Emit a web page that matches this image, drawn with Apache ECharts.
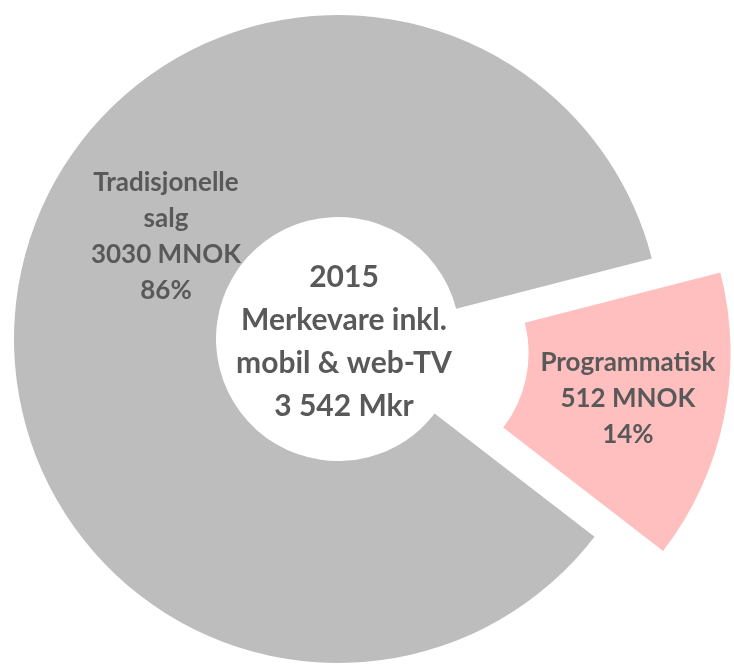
<!DOCTYPE html>
<html>
<head>
<meta charset="utf-8">
<script src="https://cdn.jsdelivr.net/npm/echarts@6/dist/echarts.min.js"></script>
<style>
  html, body { margin: 0; padding: 0; background: #fff; }
  #main { width: 734px; height: 664px; }
</style>
</head>
<body>
<div id="main"></div>
<script>
// data
var names = ['Programmatisk', 'Tradisjonelle salg'];
var values = [512, 3030];
var colors = ['#FFBFBF', '#BDBDBD'];
var centerLines = ['2015', 'Merkevare inkl.', 'mobil & web-TV', '3 542 Mkr'];

// label anchor points (pixels), same order as names
var labelPos = [[636, 409], [166, 237]];

var myChart = echarts.init(document.getElementById('main'));

var seriesData = [];
for (var i = 0; i < names.length; i++) {
    seriesData.push({
        name: names[i],
        value: values[i],
        selected: i === 0,
        itemStyle: { color: colors[i] }
    });
}

var option = {
    animation: false,
    backgroundColor: '#ffffff',
    graphic: [{
        type: 'text',
        x: 344,
        y: 342,
        style: {
            text: centerLines.join('\n'),
            textAlign: 'center',
            textVerticalAlign: 'middle',
            fill: '#595959',
            fontFamily: 'Lato',
            fontWeight: 'bold',
            fontSize: 30,
            lineHeight: 43
        }
    }],
    series: [{
        type: 'pie',
        center: [338, 339],
        radius: [122, 324],
        startAngle: 14.4,
        clockwise: true,
        selectedMode: 'single',
        selectedOffset: 70,
        avoidLabelOverlap: false,
        emphasis: { disabled: true },
        label: {
            show: true,
            position: 'inside',
            color: '#595959',
            fontFamily: 'Lato',
            fontWeight: 'bold',
            fontSize: 26,
            lineHeight: 36,
            align: 'center',
            formatter: function (p) {
                return p.name.replace(' ', '\n') + '\n' + p.value + ' MNOK\n' + Math.round(p.percent) + '%';
            }
        },
        labelLine: { show: false },
        labelLayout: function (params) {
            var pos = labelPos[params.dataIndex];
            return { x: pos[0], y: pos[1], align: 'center', verticalAlign: 'middle' };
        },
        data: seriesData
    }]
};

myChart.setOption(option);
</script>
</body>
</html>
